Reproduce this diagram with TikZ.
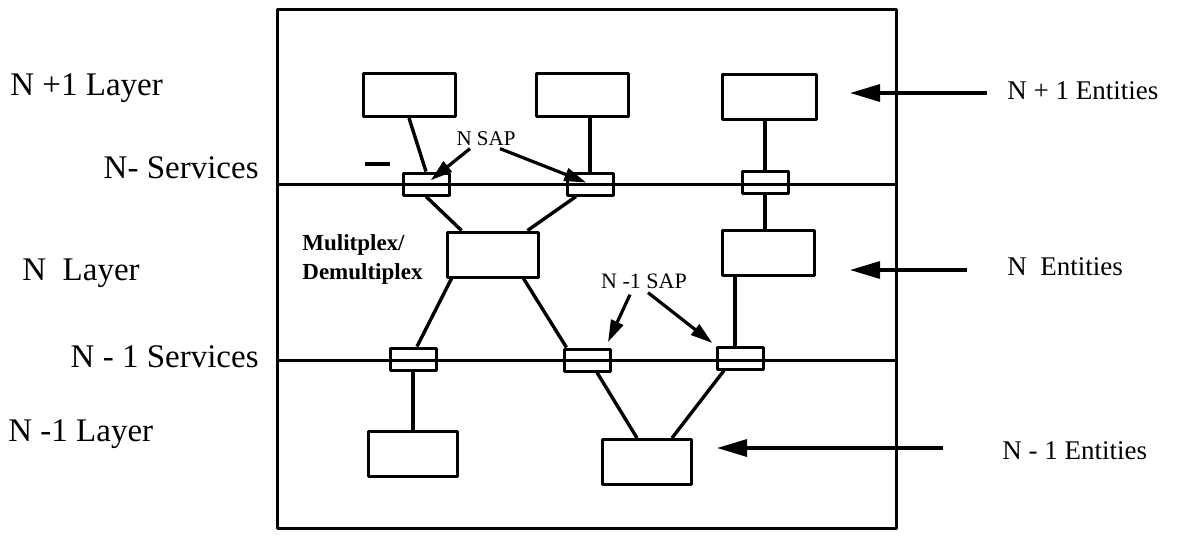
\documentclass[tikz,border=0pt]{standalone}
\usepackage{fontspec}
\setmainfont{Liberation Serif}
\usetikzlibrary{arrows.meta, positioning, calc}

\begin{document}
\begin{tikzpicture}[
    x=0.5pt, y=-0.5pt,
    line join=round,
    ent/.style={
        draw,
        line width=1.5pt,
        minimum width=46pt,
        minimum height=21.5pt,
        inner sep=0pt
    },
    sap/.style={
        draw,
        line width=1.5pt,
        minimum width=23pt,
        minimum height=11pt,
        inner sep=0pt
    },
    link/.style={line width=1.7pt},
    svc/.style={line width=1.5pt},
    ptr/.style={line width=1.6pt, -{Triangle[length=11pt,width=6.5pt]}},
    bigptr/.style={line width=1.6pt, -{Triangle[length=15pt,width=8.5pt]}},
    lay/.style={inner sep=0pt, font=\fontsize{16.5}{19}\selectfont},
    side/.style={inner sep=0pt, font=\fontsize{13.5}{15}\selectfont},
    tag/.style={inner sep=0pt, font=\fontsize{10.5}{12}\selectfont}
]
\useasboundingbox (0,0) rectangle (1181,537);

% =========================================================
% frame around the three layers
% =========================================================
\node[draw, line width=1.5pt, inner sep=0pt,
      minimum width=309.5pt, minimum height=259.5pt] (frame) at (586.5,268.5) {};

% N+1 entities
\node[ent] (u1) at (409,95) {};
\node[ent] (u2) at (582,95) {};
\node[ent, minimum width=47pt, minimum height=22.5pt] (u3) at (769,97) {};

% N service access points
\node[sap] (s1) at (426,184) {};
\node[sap] (s2) at (590,184) {};
\node[sap] (s3) at (765,182) {};

% N entities
\node[ent, minimum width=45.5pt, minimum height=22.5pt] (mux) at (492.5,254.5) {};
\node[ent, minimum height=22.5pt] (nb) at (768,253) {};

% N-1 service access points
\node[sap] (s4) at (413,359) {};
\node[sap] (s5) at (587,360) {};
\node[sap] (s6) at (740,358) {};

% N-1 entities
\node[ent, minimum width=44.5pt, minimum height=22.5pt] (l1) at (413,454) {};
\node[ent, minimum width=44.5pt, minimum height=22.5pt] (l2) at (647,462) {};

% service boundaries
\draw[svc] (frame.west |- s1.center) -- (frame.east |- s1.center);
\draw[svc] (frame.west |- s5.center) -- (frame.east |- s5.center);

% =========================================================
% links between entities and SAPs
% =========================================================
\draw[link] (u1.south) -- (s1.north);
\draw[link] (s2.north) -- (s2.north |- u2.south);
\draw[link] (s3.north) -- (s3.north |- u3.south);

\draw[link] (s1.south) -- ([xshift=8pt]mux.north west);
\draw[link] ([xshift=-7pt]s2.south) -- ([xshift=-6pt]mux.north east);
\draw[link] (s3.south) -- (s3.south |- nb.north);

\draw[link] ([xshift=3pt]mux.south west) -- ([xshift=2pt]s4.north);
\draw[link] ([xshift=-8pt]mux.south east) -- ([xshift=2pt]s5.north west);
\draw[link] ([xshift=-2.5pt]s6.north) -- ([xshift=-2.5pt]s6.north |- nb.south);

\draw[link] (s4.south) -- (l1.north);
\draw[link] ([xshift=5pt]s5.south) -- ([xshift=-5pt]l2.north);
\draw[link] ([xshift=-8pt]s6.south) -- ([xshift=12.5pt]l2.north);

% small tick left of the first SAP
\coordinate (tk) at (365,164);
\draw[link] (tk) -- ++(25,0);

% SAP tags
\node[tag, anchor=base] (nsap) at (486,145) {N SAP};
\node[tag, font=\fontsize{11}{13}\selectfont, anchor=base] (msap) at (644,288) {N -1 SAP};

\draw[ptr, shorten >=3pt] ([xshift=-8pt,yshift=-1.5pt]nsap.south) -- (s1.center);
\draw[ptr, shorten >=2pt] ([xshift=7pt,yshift=-1.5pt]nsap.south) -- (s2.center);
\draw[ptr, shorten >=3pt] ([xshift=-7pt,yshift=-3pt]msap.south) -- ([xshift=-3pt]s5.north east);
\draw[ptr, shorten >=2pt] ([xshift=2pt,yshift=-2pt]msap.south) -- (s6.north west);

\node[inner sep=0pt, font=\fontsize{11.5}{14.5}\selectfont\bfseries,
      align=left, anchor=north west] (muxlab) at (302,234) {Mulitplex/\\Demultiplex};

% =========================================================
% layer names (left) and entity names (right)
% =========================================================
\node[lay, anchor=base west] (ly1) at (10,95)  {N +1 Layer};
\node[lay, anchor=base east] (sv1) at (259,178) {N- Services};
\node[lay, anchor=base west] (ly2) at (22,280)  {N\ \ Layer};
\node[lay, anchor=base east] (sv2) at (259,367) {N - 1 Services};
\node[lay, anchor=base west] (ly3) at (8,441)   {N -1 Layer};

\node[side, anchor=base west] (e1) at (1007,99)  {N + 1 Entities};
\node[side, anchor=base west] (e2) at (1007,275) {N\ \ Entities};
\node[side, anchor=base west] (e3) at (1002,459) {N - 1 Entities};

\coordinate (p1) at (850,93);
\coordinate (p2) at (850,270);
\coordinate (p3) at (717,448);

\draw[bigptr, shorten <=10pt]   (e1.west |- p1) -- (p1);
\draw[bigptr, shorten <=20pt]   (e2.west |- p2) -- (p2);
\draw[bigptr, shorten <=29.5pt] (e3.west |- p3) -- (p3);

\end{tikzpicture}
\end{document}
